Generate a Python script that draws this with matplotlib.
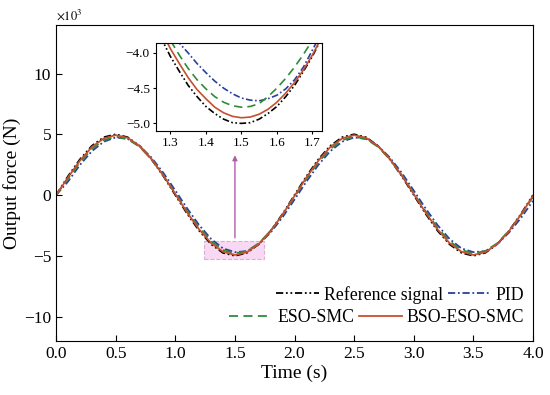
import matplotlib
matplotlib.use("Agg")
from matplotlib import pyplot as plt
from matplotlib.patches import Rectangle

plt.rcParams['font.family'] = ['Liberation Serif', 'DejaVu Serif']
plt.rcParams['mathtext.fontset'] = 'stix'

# time axis (s), values in units of 10^3 N
t = [0.0, 0.1, 0.2, 0.3, 0.4, 0.5, 0.6, 0.7, 0.8, 0.9,
     1.0, 1.1, 1.2, 1.3, 1.4, 1.5, 1.6, 1.7, 1.8, 1.9,
     2.0, 2.1, 2.2, 2.3, 2.4, 2.5, 2.6, 2.7, 2.8, 2.9,
     3.0, 3.1, 3.2, 3.3, 3.4, 3.5, 3.6, 3.7, 3.8, 3.9, 4.0]
ref = [0.0, 1.55, 2.94, 4.05, 4.76, 5.00, 4.76, 4.05, 2.94, 1.55,
       0.0, -1.55, -2.94, -4.05, -4.76, -5.00, -4.76, -4.05, -2.94, -1.55,
       0.0, 1.55, 2.94, 4.05, 4.76, 5.00, 4.76, 4.05, 2.94, 1.55,
       0.0, -1.55, -2.94, -4.05, -4.76, -5.00, -4.76, -4.05, -2.94, -1.55, 0.0]
pid = [0.0, 1.11, 2.48, 3.61, 4.39, 4.74, 4.62, 4.05, 3.08, 1.82,
       0.37, -1.11, -2.48, -3.61, -4.39, -4.70, -4.62, -4.05, -3.08, -1.82,
       -0.37, 1.11, 2.48, 3.61, 4.39, 4.74, 4.62, 4.05, 3.08, 1.82,
       0.37, -1.11, -2.48, -3.61, -4.39, -4.70, -4.62, -4.05, -3.08, -1.88, -0.48]
eso = [0.0, 1.34, 2.70, 3.79, 4.52, 4.80, 4.61, 3.97, 2.94, 1.63,
       0.15, -1.34, -2.70, -3.79, -4.52, -4.80, -4.61, -3.97, -2.94, -1.63,
       -0.15, 1.34, 2.70, 3.79, 4.52, 4.80, 4.61, 3.97, 2.94, 1.63,
       0.15, -1.34, -2.70, -3.79, -4.52, -4.80, -4.61, -3.97, -2.94, -1.63, -0.15]
bso = [0.0, 1.45, 2.83, 3.95, 4.66, 4.93, 4.71, 4.03, 2.96, 1.60,
       0.08, -1.45, -2.83, -3.95, -4.66, -4.93, -4.71, -4.03, -2.96, -1.60,
       -0.08, 1.45, 2.83, 3.95, 4.66, 4.93, 4.71, 4.03, 2.96, 1.60,
       0.08, -1.45, -2.83, -3.95, -4.66, -4.93, -4.71, -4.03, -2.96, -1.60, -0.08]

# zoomed window
tz = [1.25, 1.275, 1.3, 1.325, 1.35, 1.375, 1.4, 1.425, 1.45, 1.475, 1.5,
      1.525, 1.55, 1.575, 1.6, 1.625, 1.65, 1.675, 1.7, 1.725, 1.75]
ref_z = [-3.54, -3.80, -4.05, -4.26, -4.46, -4.62, -4.76, -4.86, -4.94, -4.99, -5.00,
         -4.99, -4.94, -4.86, -4.76, -4.62, -4.46, -4.26, -4.05, -3.80, -3.54]
pid_z = [-3.35, -3.55, -3.72, -3.86, -4.00, -4.15, -4.28, -4.40, -4.50, -4.58, -4.64,
         -4.67, -4.68, -4.65, -4.60, -4.51, -4.38, -4.20, -3.96, -3.72, -3.45]
eso_z = [-3.32, -3.58, -3.82, -4.03, -4.22, -4.38, -4.51, -4.62, -4.70, -4.75, -4.77,
         -4.76, -4.72, -4.62, -4.50, -4.36, -4.20, -4.02, -3.82, -3.60, -3.38]
bso_z = [-3.42, -3.69, -3.94, -4.15, -4.35, -4.52, -4.65, -4.77, -4.85, -4.90, -4.92,
         -4.91, -4.87, -4.80, -4.70, -4.57, -4.42, -4.24, -4.03, -3.79, -3.53]

labels = ['Reference signal', 'PID', 'ESO-SMC', 'BSO-ESO-SMC']
colors = ['#000000', '#2b3f9e', '#2e8b3a', '#c4502e']
dashes = [(4, 1.5, 1, 1.5, 1, 1.5), (4, 1.5, 1, 1.5), (5, 3), ()]

fig = plt.figure(figsize=(5.5, 3.95), dpi=100)
ax = fig.add_axes([0.102, 0.137, 0.867, 0.800])

lines = []
for y, c, d, lab in zip([ref, pid, eso, bso], colors, dashes, labels):
    ln, = ax.plot(t, y, color=c, lw=1.3, label=lab)
    if d:
        ln.set_dashes(d)
    lines.append(ln)

ax.set_xlim(0, 4)
ax.set_ylim(-12, 14)
ax.set_xticks([0, 0.5, 1, 1.5, 2, 2.5, 3, 3.5, 4])
ax.set_xticklabels(['%.1f' % v for v in ax.get_xticks()])
ax.set_yticks([-10, -5, 0, 5, 10])
ax.tick_params(direction='in', length=4, labelsize=12.5)
ax.set_xlabel('Time (s)', fontsize=14, labelpad=2)
ax.set_ylabel('Output force (N)', fontsize=14, labelpad=2)
ax.text(0.0, 1.008, r'$\times 10^3$', transform=ax.transAxes, fontsize=9,
        ha='left', va='bottom')

# highlighted zoom region and arrow to inset
ax.add_patch(Rectangle((1.24, -5.25), 0.5, 1.5, facecolor='#f7c8ee', alpha=0.7,
                       edgecolor='#c79ac0', linestyle='--', lw=0.8, zorder=1))
ax.annotate('', xy=(1.5, 3.5), xytext=(1.5, -3.75),
            arrowprops=dict(arrowstyle='-|>', color='#b45ca8', lw=1.0,
                            mutation_scale=7))

# legend rows, right aligned
leg1 = ax.legend([lines[0], lines[1]], labels[:2], ncol=2, frameon=False,
                 loc='center right', bbox_to_anchor=(0.982, 0.146),
                 borderaxespad=0, borderpad=0, fontsize=12.8, handlelength=2.4,
                 handletextpad=0.3, columnspacing=0.25)
ax.add_artist(leg1)
ax.legend([lines[2], lines[3]], labels[2:], ncol=2, frameon=False,
          loc='center right', bbox_to_anchor=(0.982, 0.073),
          borderaxespad=0, borderpad=0, fontsize=12.8, handlelength=2.4,
          handletextpad=0.3, columnspacing=0.25)

# inset
axi = fig.add_axes([0.284, 0.668, 0.302, 0.223])
for y, c, d in zip([ref_z, pid_z, eso_z, bso_z], colors, dashes):
    ln, = axi.plot(tz, y, color=c, lw=1.2)
    if d:
        ln.set_dashes(d)
axi.set_xlim(1.26, 1.728)
axi.set_ylim(-5.11, -3.86)
axi.set_xticks([1.3, 1.4, 1.5, 1.6, 1.7])
axi.set_yticks([-5.0, -4.5, -4.0])
axi.set_yticklabels(['\u22125.0', '\u22124.5', '\u22124.0'])
axi.tick_params(direction='out', length=2.5, labelsize=9.5, pad=2)

fig.savefig('out.png', dpi=100)
